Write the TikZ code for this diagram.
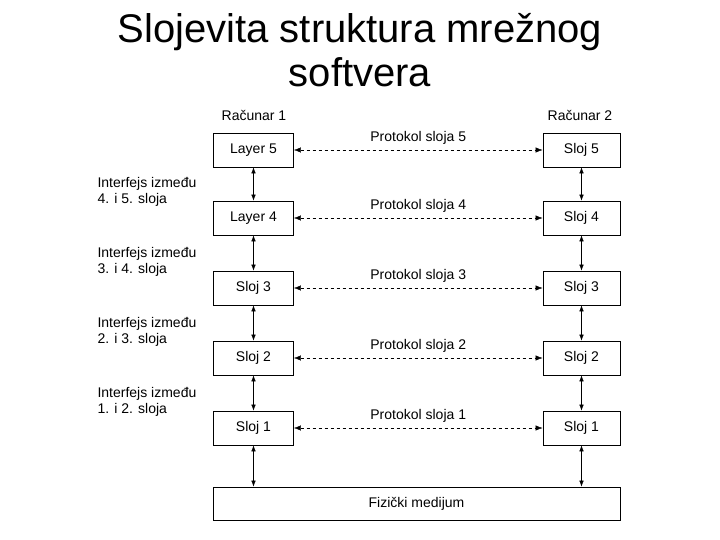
\documentclass[tikz,border=0pt]{standalone}
\usepackage{fontspec}
\setmainfont{Liberation Sans}
\usetikzlibrary{arrows.meta}
\begin{document}
\begin{tikzpicture}[x=1pt,y=-1pt,
  lay/.style={draw,thick,minimum width=80pt,minimum height=34pt,font=\fontsize{14}{15}\selectfont},
  rlay/.style={lay,minimum width=77pt},
  lbl/.style={font=\fontsize{14}{15}\selectfont},
  ilbl/.style={font=\fontsize{14}{16}\selectfont,align=left,anchor=north west},
  proto/.style={dashed,{Latex[length=7pt]}-{Latex[length=7pt]}},
  intf/.style={{Latex[length=6pt]}-{Latex[length=6pt]}}]
\useasboundingbox (0,0) rectangle (720,540);
\node[font=\fontsize{40}{44}\selectfont,align=center] (title) at (360,50) {Slojevita struktura mrežnog\\softvera};
\node[lbl] (r1) at (254,115) {Računar 1};
\node[lbl] (r2) at (580,115) {Računar 2};
\foreach \i/\y/\ln in {5/150/Layer 5,4/218/Layer 4,3/288/Sloj 3,2/358/Sloj 2,1/428/Sloj 1}{
  \node[lay] (L\i) at (253.5,\y) {\ln};
  \node[rlay] (R\i) at (581.5,\y) {Sloj \i};
  \draw[proto] (L\i) -- node[lbl,above=2pt] (p\i) {Protokol sloja \i} (R\i);
}
\node[draw,thick,minimum width=407pt,minimum height=33pt,font=\fontsize{14}{15}\selectfont] (F) at (416.5,503.5) {Fizički medijum};
\foreach \a/\b in {5/4,4/3,3/2,2/1}{
  \draw[intf] (L\a) -- (L\b);
  \draw[intf] (R\a) -- (R\b);
}
\draw[intf] (L1.south) -- (L1.south |- F.north);
\draw[intf] (R1.south) -- (R1.south |- F.north);
\node[ilbl] (i45) at (94,174) {Interfejs između\\4. i 5. sloja};
\node[ilbl] (i34) at (94,244) {Interfejs između\\3. i 4. sloja};
\node[ilbl] (i23) at (94,314) {Interfejs između\\2. i 3. sloja};
\node[ilbl] (i12) at (94,384) {Interfejs između\\1. i 2. sloja};
\end{tikzpicture}
\end{document}
